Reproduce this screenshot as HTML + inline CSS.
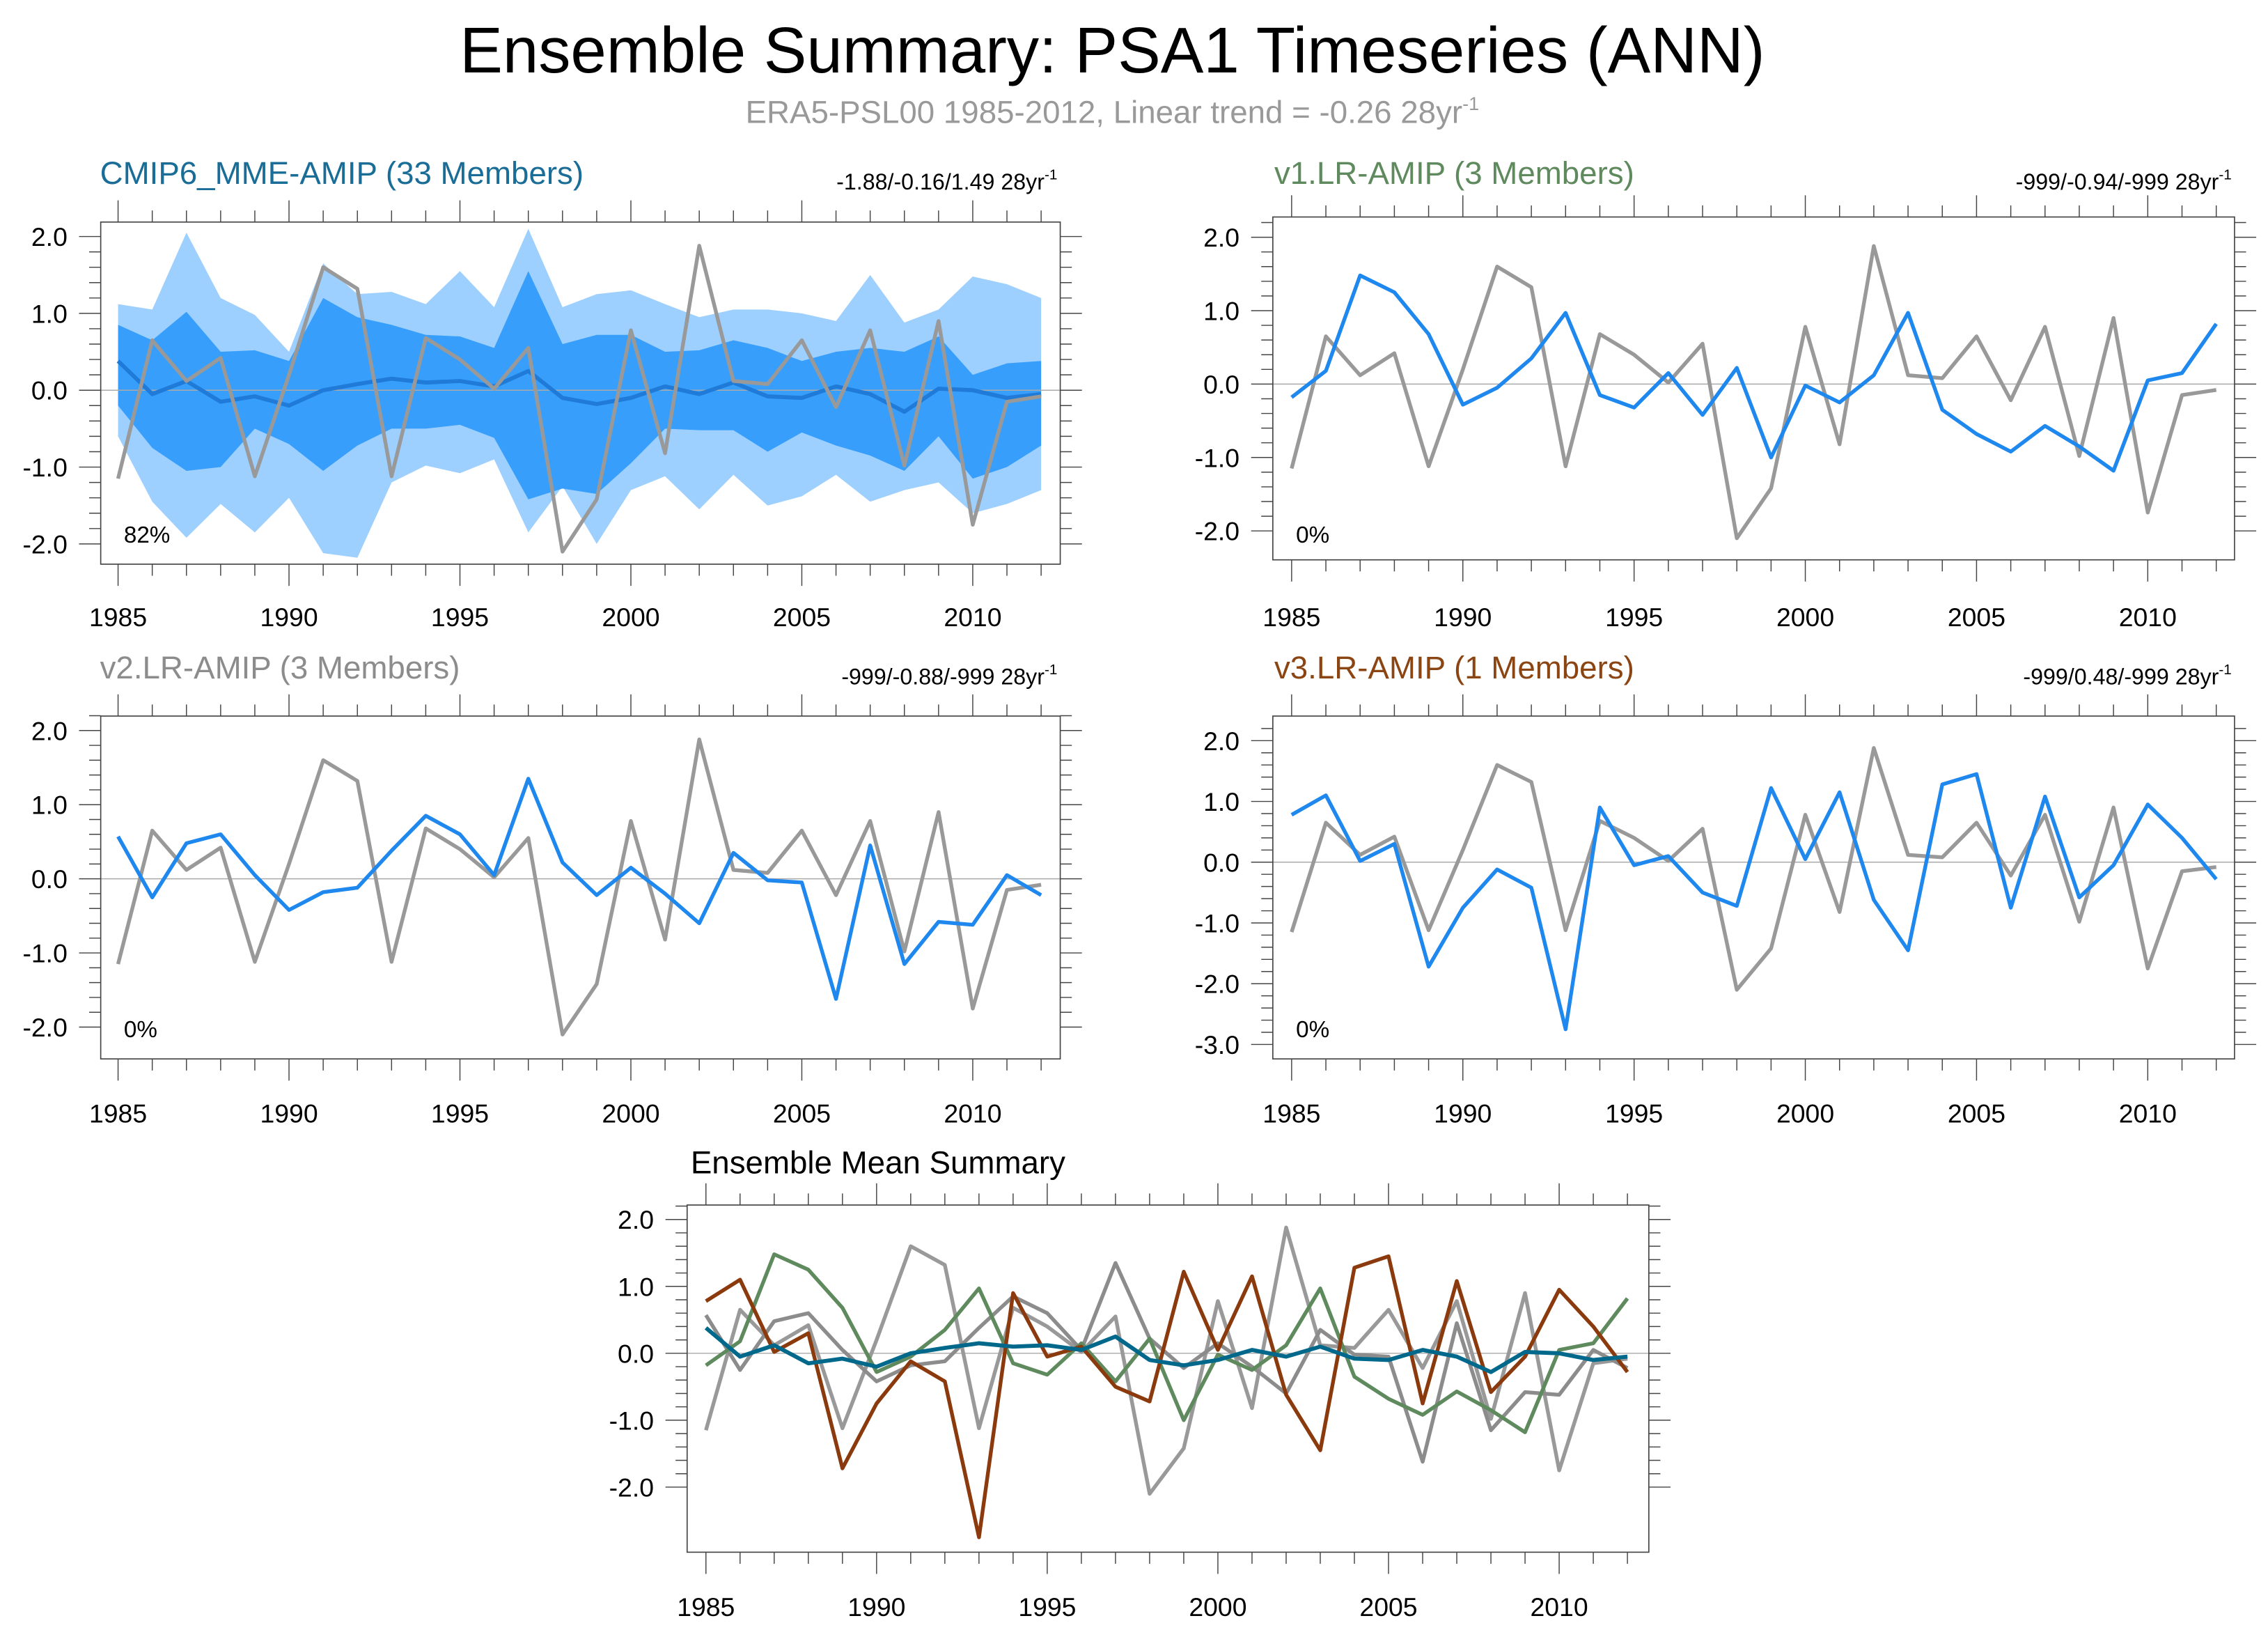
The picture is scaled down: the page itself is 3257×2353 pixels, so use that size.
<!DOCTYPE html>
<html><head><meta charset="utf-8"><style>
html,body{margin:0;padding:0;background:#fff}
svg{display:block;font-family:"Liberation Sans",sans-serif}
</style></head><body>
<svg id="c" width="3257" height="2353" viewBox="0 0 1568 1133" xmlns="http://www.w3.org/2000/svg">
<text x="769" y="50" font-size="44.5" text-anchor="middle" fill="#000">Ensemble Summary: PSA1 Timeseries (ANN)</text>
<text x="769" y="85" font-size="22" text-anchor="middle" fill="#999">ERA5-PSL00 1985-2012, Linear trend = -0.26 28yr<tspan font-size="13" dy="-9">-1</tspan></text>
</svg>
<script>
const years=[];for(let y=1985;y<=2012;y++)years.push(y);
const era5=[-1.15,0.65,0.12,0.42,-1.12,0.2,1.6,1.32,-1.12,0.68,0.4,0.02,0.55,-2.1,-1.42,0.78,-0.82,1.88,0.12,0.08,0.65,-0.22,0.78,-0.98,0.9,-1.75,-0.15,-0.08];
const mme=[0.38,-0.05,0.12,-0.15,-0.08,-0.2,0.0,0.08,0.15,0.1,0.12,0.05,0.25,-0.1,-0.18,-0.1,0.05,-0.05,0.1,-0.08,-0.1,0.05,-0.05,-0.28,0.02,0.0,-0.1,-0.05];
const outerHi=[1.12,1.05,2.05,1.2,0.98,0.5,1.65,1.25,1.28,1.12,1.55,1.08,2.1,1.08,1.25,1.3,1.12,0.95,1.05,1.05,1.0,0.9,1.5,0.88,1.05,1.48,1.38,1.2];
const outerLo=[-0.6,-1.45,-1.92,-1.48,-1.85,-1.4,-2.12,-2.18,-1.2,-0.98,-1.08,-0.9,-1.85,-1.25,-2.0,-1.3,-1.12,-1.55,-1.1,-1.5,-1.38,-1.1,-1.45,-1.3,-1.2,-1.6,-1.48,-1.3];
const innerHi=[0.85,0.65,1.02,0.5,0.52,0.38,1.2,0.95,0.85,0.72,0.7,0.55,1.55,0.6,0.72,0.72,0.5,0.52,0.65,0.55,0.38,0.5,0.55,0.5,0.7,0.2,0.35,0.38];
const innerLo=[-0.2,-0.75,-1.05,-1.0,-0.5,-0.7,-1.05,-0.72,-0.5,-0.5,-0.45,-0.62,-1.42,-1.28,-1.35,-0.95,-0.5,-0.52,-0.52,-0.8,-0.55,-0.72,-0.85,-1.05,-0.6,-1.15,-1.0,-0.72];
const v1=[-0.18,0.18,1.48,1.25,0.68,-0.28,-0.05,0.35,0.97,-0.15,-0.32,0.15,-0.42,0.22,-1.0,-0.02,-0.25,0.12,0.97,-0.35,-0.68,-0.92,-0.57,-0.85,-1.18,0.05,0.15,0.82];
const v2=[0.57,-0.25,0.48,0.6,0.05,-0.42,-0.18,-0.12,0.38,0.85,0.6,0.05,1.35,0.22,-0.22,0.15,-0.2,-0.6,0.35,-0.02,-0.05,-1.62,0.45,-1.15,-0.58,-0.62,0.05,-0.22];
const v3=[0.78,1.1,0.02,0.3,-1.72,-0.75,-0.12,-0.42,-2.75,0.9,-0.05,0.1,-0.5,-0.72,1.22,0.05,1.15,-0.62,-1.45,1.28,1.45,-0.75,1.08,-0.58,-0.05,0.95,0.4,-0.28];
const xTicks=[1985,1990,1995,2000,2005,2010];

const svg=document.getElementById('c');const NS='http://www.w3.org/2000/svg';
function el(t,a,p){const e=document.createElementNS(NS,t);for(const k in a)e.setAttribute(k,a[k]);(p||svg).appendChild(e);return e;}

function panel(o){
  const g=el('g',{});
  
  
  const sx=y=>o.x0+(y-1985)*(o.x1-o.x0)/25;
  const sy=v=>o.y0+(o.vTop-v)*(o.y1-o.y0)/(o.vTop-o.vBot);
  if(o.bands){
    for(const b of o.bands){
      let d='M'+years.map((y,i)=>sx(y)+','+sy(b.hi[i])).join('L');
      for(let i=years.length-1;i>=0;i--)d+='L'+sx(years[i])+','+sy(b.lo[i]);
      const p=el('path',{d:d+'Z',fill:b.color},g);
      
      
    }
  }
  const z=el('line',{x1:o.L,x2:o.R,y1:sy(0),y2:sy(0),stroke:'#aaa','stroke-width':0.7},g);
  
  
  for(const s of o.series){
    const p=el('polyline',{points:years.map((y,i)=>sx(y)+','+sy(s.v[i])).join(' '),fill:'none',stroke:s.color,'stroke-width':s.w||2.6,'stroke-linejoin':'round'},g);
    
    
  }
  const f=el('rect',{x:o.L,y:o.T,width:o.R-o.L,height:o.B-o.T,fill:'none',stroke:'#444','stroke-width':0.8},g);
  
  
  for(let k=Math.round(o.vBot*5);k<=Math.round(o.vTop*5)+1;k++){
    const v=k/5;const y=sy(v);if(y<o.T-0.5||y>o.B+0.5)continue;
    const major=k%5===0;const len=major?15:8;
    el('line',{x1:o.L-len,x2:o.L,y1:y,y2:y,stroke:'#444','stroke-width':0.7},g);
    el('line',{x1:o.R,x2:o.R+len,y1:y,y2:y,stroke:'#444','stroke-width':0.7},g);
    if(major&&v>=o.vBot-0.01&&v<=o.vTop+0.01){
      const t=el('text',{x:o.L-23,y:y+6.5,'font-size':18,'text-anchor':'end',fill:'#000'},g);
      t.textContent=v.toFixed(1);
      
      
    }
  }
  for(const yr of years){
    const x=sx(yr);const major=xTicks.includes(yr);const len=major?15:8;
    el('line',{x1:x,x2:x,y1:o.B,y2:o.B+len,stroke:'#444','stroke-width':0.7},g);
    el('line',{x1:x,x2:x,y1:o.T-len,y2:o.T,stroke:'#444','stroke-width':0.7},g);
    if(major){
      const t=el('text',{x:x,y:o.xLabY,'font-size':18,'text-anchor':'middle',fill:'#000'},g);
      t.textContent=yr;
      
      
    }
  }
  const tt=el('text',{x:o.titleX,y:o.titleY,'font-size':22,'text-anchor':o.titleAnchor||'start',fill:o.titleColor},g);
  tt.textContent=o.title;
  
  
  if(o.trend){
    const t=el('text',{x:o.R-2,y:o.titleY+4,'font-size':15.5,'text-anchor':'end',fill:'#000'},g);
    t.innerHTML=o.trend+' 28yr<tspan font-size="10" dy="-7">-1</tspan>';
    
    
  }
  if(o.pct){
    const t=el('text',{x:o.L+16,y:o.pctY,'font-size':16,fill:'#000'},g);
    t.textContent=o.pct;
    
    
  }
}
const G='#999',B='#1e88ee';
panel({name:'panel-cmip6-mme',L:69.5,R:733,T:153.5,B:390,x0:81.5,x1:672.5,vTop:2,vBot:-2,y0:163.5,y1:376,
  bands:[{hi:outerHi,lo:outerLo,color:'#9dcfff',name:'outer-spread-band'},{hi:innerHi,lo:innerLo,color:'#379ffb',name:'inner-spread-band'}],
  series:[{v:mme,color:'#1f7ad8',name:'mme-mean-line',w:2.8},{v:era5,color:G,name:'era5-line'}],
  title:'CMIP6_MME-AMIP (33 Members)',titleX:69,titleY:127,titleColor:'#1a6d96',trend:'-1.88/-0.16/1.49',pct:'82%',pctY:375,xLabY:433});
panel({name:'panel-v1',L:880,R:1545,T:150,B:387,x0:893,x1:1485,vTop:2,vBot:-2,y0:164,y1:367,
  series:[{v:era5,color:G,name:'era5-line'},{v:v1,color:B,name:'v1-line'}],
  title:'v1.LR-AMIP (3 Members)',titleX:881,titleY:127,titleColor:'#5e8a5e',trend:'-999/-0.94/-999',pct:'0%',pctY:375,xLabY:433});
panel({name:'panel-v2',L:69.5,R:733,T:495,B:732,x0:81.5,x1:672.5,vTop:2,vBot:-2,y0:505,y1:710,
  series:[{v:era5,color:G,name:'era5-line'},{v:v2,color:B,name:'v2-line'}],
  title:'v2.LR-AMIP (3 Members)',titleX:69,titleY:469,titleColor:'#8c8c8c',trend:'-999/-0.88/-999',pct:'0%',pctY:717,xLabY:776});
panel({name:'panel-v3',L:880,R:1545,T:495,B:732,x0:893,x1:1485,vTop:2,vBot:-3,y0:512,y1:722,
  series:[{v:era5,color:G,name:'era5-line'},{v:v3,color:B,name:'v3-line'}],
  title:'v3.LR-AMIP (1 Members)',titleX:881,titleY:469,titleColor:'#8b4513',trend:'-999/0.48/-999',pct:'0%',pctY:717,xLabY:776});
panel({name:'panel-ensemble-mean',L:475,R:1140,T:833,B:1073,x0:488,x1:1078,vTop:2,vBot:-2,y0:843,y1:1028,
  series:[{v:era5,color:G,name:'era5-line'},{v:v2,color:'#8c8c8c',name:'v2-mean-line'},{v:v1,color:'#5e8a5e',name:'v1-mean-line'},{v:v3,color:'#8b3a0e',name:'v3-mean-line'},{v:mme,color:'#00688b',name:'mme-mean-line',w:2.8}],
  title:'Ensemble Mean Summary',titleX:607,titleY:811,titleAnchor:'middle',titleColor:'#000',xLabY:1117});
</script>
</body></html>
